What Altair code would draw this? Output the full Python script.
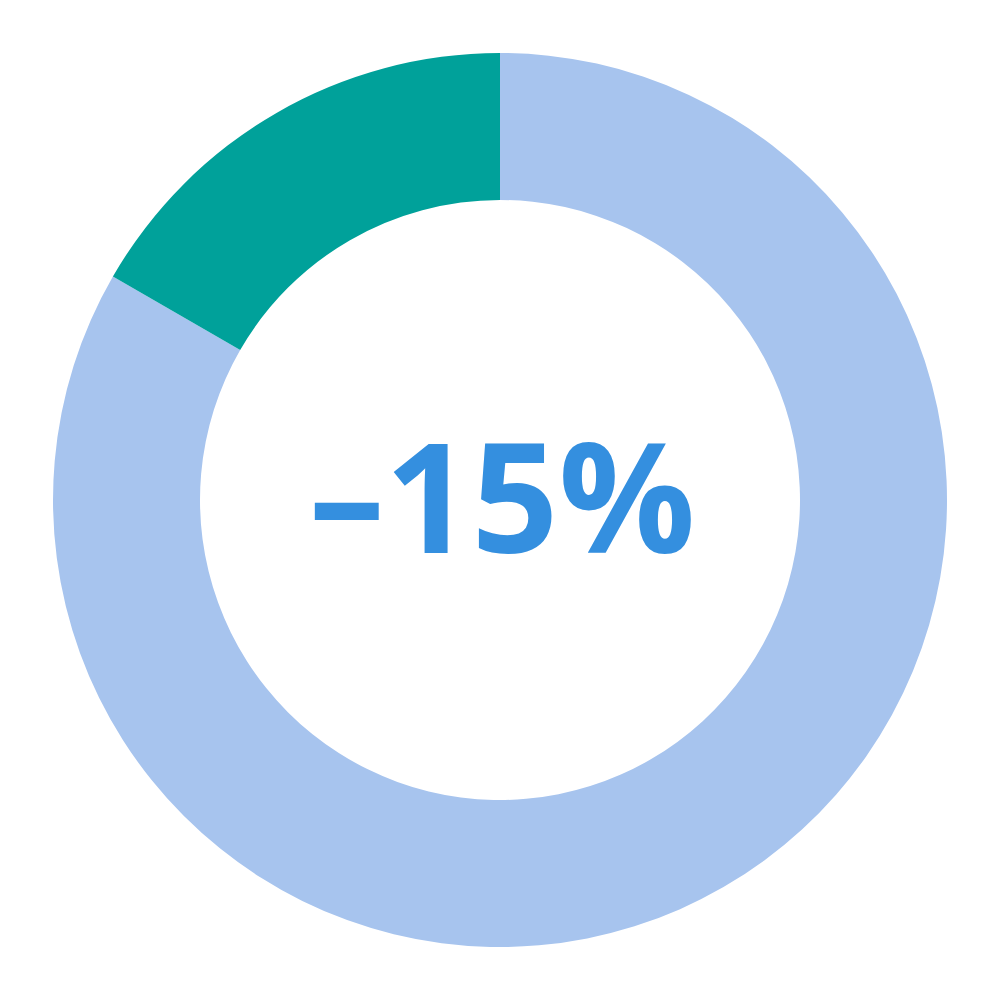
import altair as alt
import pandas as pd

categories = ["Rest", "Share"]
values = [75, 15]
order = [1, 2]
colors = ["#A7C4EE", "#00A19A"]
label = "–15%"

df = pd.DataFrame({"category": categories, "value": values, "order": order})

arcs = alt.Chart(df).mark_arc(radius=447, radius2=300, stroke=None).encode(
    theta=alt.Theta("value:Q", stack=True),
    order=alt.Order("order:Q"),
    color=alt.Color("category:N", scale=alt.Scale(domain=categories, range=colors), legend=None),
)

text = alt.Chart(pd.DataFrame({"t": [label]})).mark_text(
    font="Open Sans", fontWeight="bold", fontSize=152, color="#348FDF",
    align="center", baseline="alphabetic"
).encode(
    x=alt.value(494), y=alt.value(545), text="t:N"
)

chart = alt.layer(arcs, text).properties(
    width=984, height=984,
    autosize=alt.AutoSizeParams(type="fit", contains="padding"),
    padding=0,
).configure_view(stroke=None)

chart.save("out.html", embed_options={"renderer": "svg", "actions": False})
